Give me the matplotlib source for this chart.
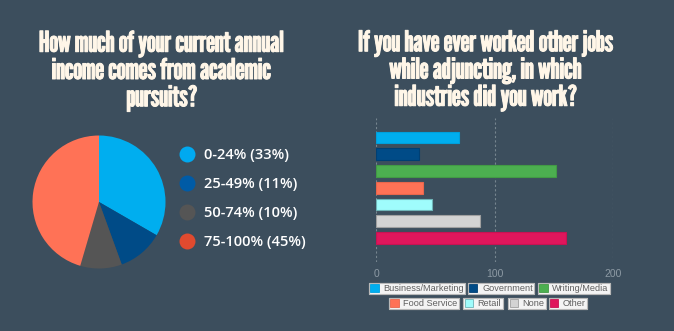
import matplotlib
matplotlib.use('Agg')
import matplotlib.pyplot as plt
import matplotlib.patheffects as pe
from matplotlib.lines import Line2D
from matplotlib.patches import Patch

# pie data
income_labels = ['0-24% (33%)', '25-49% (11%)', '50-74% (10%)', '75-100% (45%)']
income_values = [33, 11, 10, 45]
pie_colors = ['#00AEEF', '#004B87', '#555555', '#FF7256']
legend_colors = ['#00A9F0', '#005BA6', '#555555', '#E04A2F']

# bar data
jobs = ['Business/Marketing', 'Government', 'Writing/Media', 'Food Service',
        'Retail', 'None', 'Other']
job_counts = [70, 36, 152, 40, 47, 88, 160]
bar_colors = ['#00AEEF', '#004B87', '#4CAF50', '#FF7256', '#9FFCFC',
              '#D3D3D3', '#E0165C']
bar_edges = ['#00A0DC', '#003F73', '#429A45', '#E8664C', '#6FB5B8',
             '#A0A0A0', '#C81252']

bg = '#3C4E5D'
title_color = '#FFF6E8'
title_font = ['League Gothic', 'DejaVu Sans']

W, H = 674, 331
fig = plt.figure(figsize=(W / 100, H / 100), dpi=100, facecolor=bg)

def px(x, y, w, h):
    return [x / W, 1 - (y + h) / H, w / W, h / H]

# titles
bold = [pe.withStroke(linewidth=0.7, foreground=title_color)]
fig.text(162 / W, 1 - 71 / H,
         'How much of your current annual\nincome comes from academic\npursuits?',
         ha='center', va='center', color=title_color, fontsize=20.5,
         family=title_font, linespacing=1.06, path_effects=bold)
fig.text(486 / W, 1 - 70.5 / H,
         'If you have ever worked other jobs\nwhile adjuncting, in which\nindustries did you work?',
         ha='center', va='center', color=title_color, fontsize=20.5,
         family=title_font, linespacing=1.06, path_effects=bold)

# pie
ax1 = fig.add_axes(px(32.5, 135.5, 133, 133))
ax1.pie(income_values, colors=pie_colors, startangle=90, counterclock=False,
        radius=1, wedgeprops=dict(linewidth=0))
ax1.set_xlim(-1, 1)
ax1.set_ylim(-1, 1)
ax1.set_aspect('equal')
ax1.axis('off')

handles = [Line2D([], [], marker='o', linestyle='none', markersize=11.5,
                  markerfacecolor=c, markeredgewidth=0) for c in legend_colors]
fig.legend(handles, income_labels, loc='upper left',
           bbox_to_anchor=(172 / W, 1 - 141 / H), frameon=False,
           labelcolor='white', handlelength=1.0,
           handletextpad=0.7, labelspacing=1.02, borderpad=0,
           prop={'family': ['Open Sans', 'DejaVu Sans'], 'weight': 'semibold', 'size': 10.5})

# bars
ax2 = fig.add_axes(px(376, 118, 237, 144))
ax2.set_facecolor('none')
y = list(range(len(jobs)))
ax2.barh(y, job_counts, height=0.7, color=bar_colors, edgecolor=bar_edges,
         linewidth=0.8)
ax2.set_xlim(0, 200)
ax2.set_ylim(7.43, -1.16)
ax2.set_xticks([0, 100, 200])
ax2.set_yticks([])
for x in [0, 100, 200]:
    ax2.axvline(x, color='#76858F', linestyle=(0, (2, 2)), linewidth=0.8,
                zorder=0)
for s in ax2.spines.values():
    s.set_visible(False)
ax2.tick_params(axis='x', length=0, pad=5, labelsize=7.5, labelcolor='#8D9AA4')
for t in ax2.get_xticklabels():
    t.set_family(['Liberation Sans', 'DejaVu Sans'])

# industry legend, one boxed entry per item laid out in two rows
centers = [(417, 288.5), (501, 288.5), (574, 288.5),
           (424, 303.5), (483, 303.5), (527, 303.5), (568, 303.5)]
for name, c, e, (cx, cy) in zip(jobs, bar_colors, bar_edges, centers):
    lg = fig.legend([Patch(facecolor=c, edgecolor=e, linewidth=0.6)], [name],
                    loc='center', bbox_to_anchor=(cx / W, 1 - cy / H),
                    frameon=True, fancybox=False, framealpha=1,
                    facecolor='#F4F4F4', edgecolor='#B8B8B8',
                    handlelength=0.9, handleheight=0.9, handletextpad=0.5,
                    borderpad=0.15, borderaxespad=0, labelcolor='#606060',
                    prop={'family': ['Liberation Sans', 'DejaVu Sans'], 'size': 6.6})
    lg.get_frame().set_linewidth(0.8)
    fig.add_artist(lg)

fig.savefig('out.png', dpi=100, facecolor=bg)
